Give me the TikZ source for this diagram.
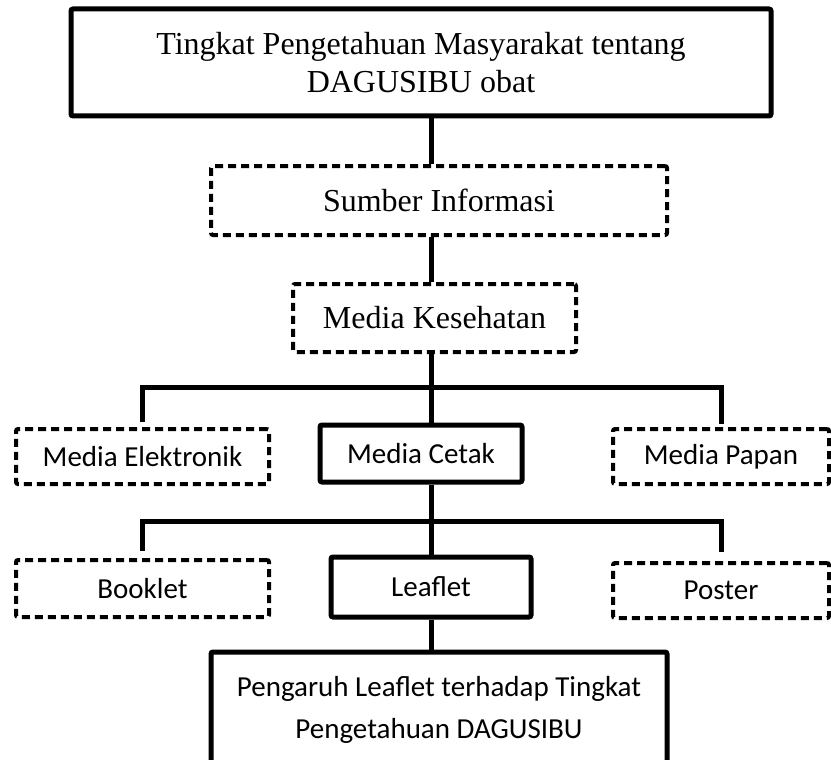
\documentclass[tikz,border=0pt]{standalone}
\usepackage{fontspec}
\setmainfont{Liberation Serif}
\newfontfamily\calfont{Carlito}

\begin{document}
\begin{tikzpicture}[
	x=1pt, y=-1pt,
	box/.style={
		rectangle,
		draw,
		line width=5pt,
		rounded corners=2pt,
		align=center,
		inner sep=0pt
	},
	dbox/.style={
		box,
		line width=4pt,
		dash pattern=on 8pt off 5pt
	},
	ser/.style={
		font=\fontsize{32}{38}\selectfont
	},
	san/.style={
		font=\calfont\fontsize{29}{42}\selectfont
	},
	link/.style={
		line width=5pt
	}
	]

	\clip (0,0) rectangle (831,760);

	\node [box,ser,minimum width=700pt,minimum height=107pt] (Top) at (421,62.5) {Tingkat Pengetahuan Masyarakat tentang\\DAGUSIBU obat};
	\node [dbox,ser,minimum width=456pt,minimum height=69pt] (Src) at (439,200.5) {Sumber Informasi};
	\node [dbox,ser,minimum width=283pt,minimum height=68pt] (MedKes) at (434.5,318) {Media Kesehatan};

	\node [dbox,san,minimum width=253pt,minimum height=55pt] (Elek) at (142.5,456.5) {Media Elektronik};
	\node [box,san,minimum width=202pt,minimum height=57pt] (Cetak) at (421,453.5) {Media Cetak};
	\node [dbox,san,minimum width=216pt,minimum height=55pt] (Papan) at (721,456.5) {Media Papan};

	\node [dbox,san,minimum width=253pt,minimum height=57pt] (Booklet) at (142.5,588.5) {Booklet};
	\node [box,san,minimum width=200pt,minimum height=60pt] (Leaflet) at (431,587) {Leaflet};
	\node [dbox,san,minimum width=216pt,minimum height=55pt] (Poster) at (721,590.5) {Poster};

	\node [box,san,minimum width=456pt,minimum height=116pt] (Effect) at (439,710) {Pengaruh Leaflet terhadap Tingkat\\Pengetahuan DAGUSIBU};

	% spine and branches
	\coordinate (spine) at (431,0);
	\coordinate (bus1) at (0,387);
	\coordinate (bus2) at (0,521);

	\draw [link] (Top.south -| spine) -- (Src.north -| spine);
	\draw [link] (Src.south -| spine) -- (MedKes.north -| spine);
	\draw [link] (MedKes.south -| spine) -- (Cetak.north -| spine);
	\draw [link,shorten <=5pt,shorten >=3pt] (Elek.north) -- (Elek.north |- bus1) -- (Papan.north |- bus1) -- (Papan.north);

	\draw [link] (Cetak.south -| spine) -- (Leaflet.north -| spine);
	\draw [link,shorten <=7pt,shorten >=9pt] (Booklet.north) -- (Booklet.north |- bus2) -- (Poster.north |- bus2) -- (Poster.north);
	\draw [link] (Leaflet.south -| spine) -- (Effect.north -| spine);

\end{tikzpicture}
\end{document}
